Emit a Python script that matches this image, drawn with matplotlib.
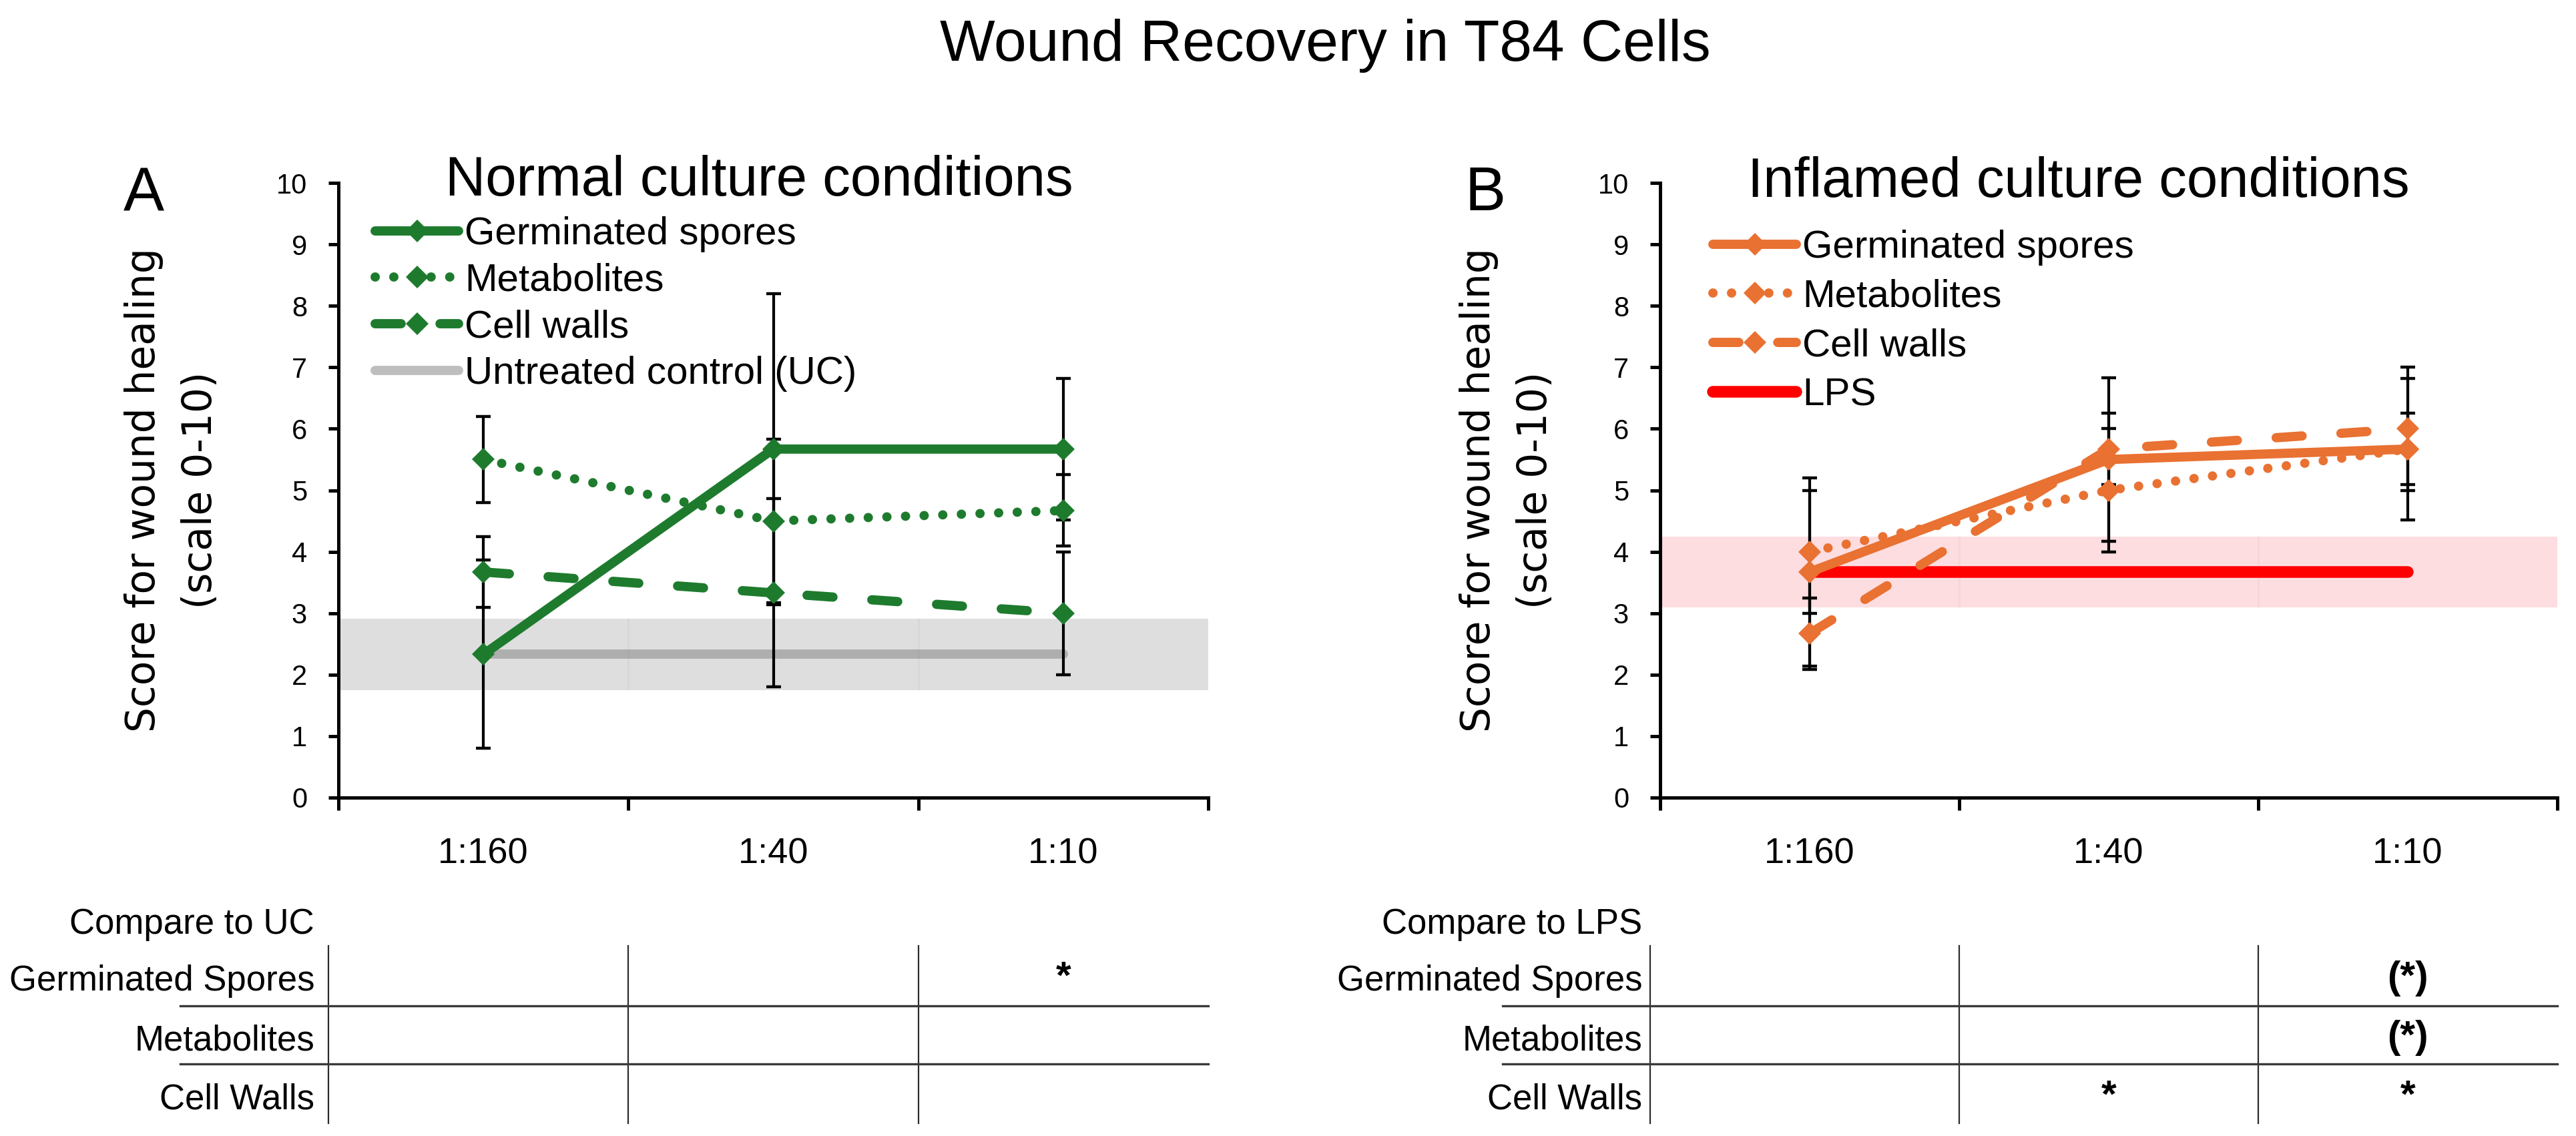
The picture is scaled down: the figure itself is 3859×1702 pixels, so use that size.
import matplotlib
matplotlib.use("Agg")
import matplotlib.pyplot as plt
import matplotlib.transforms as mtransforms

# ---------------- data ----------------
categories = ["1:160", "1:40", "1:10"]
series_names = ["Germinated spores", "Metabolites", "Cell walls"]

# Panel A - normal culture conditions
a_germ = [2.33, 5.67, 5.67]
a_germ_err = [1.53, 2.53, 1.15]
a_met = [5.5, 4.5, 4.67]
a_met_err = [0.7, 1.33, 0.58]
a_cw = [3.67, 3.33, 3.0]
a_cw_err = [0.58, 1.53, 1.0]
a_ctrl_name = "Untreated control (UC)"
a_ctrl = 2.33
a_ctrl_sd = 0.58

# Panel B - inflamed culture conditions
b_germ = [3.67, 5.5, 5.67]
b_germ_err = [1.53, 1.33, 1.15]
b_met = [4.0, 5.0, 5.67]
b_met_err = [1.0, 1.0, 0.58]
b_cw = [2.67, 5.67, 6.0]
b_cw_err = [0.58, 0.58, 1.0]
b_ctrl_name = "LPS"
b_ctrl = 3.67
b_ctrl_sd = 0.58

table_rows = ["Germinated Spores", "Metabolites", "Cell Walls"]
a_sig = [["", "", "*"], ["", "", ""], ["", "", ""]]
b_sig = [["", "", "(*)"], ["", "", "(*)"], ["", "*", "*"]]

# ---------------- layout ----------------
W, H, DPI = 3859, 1702, 200
FONT = "Liberation Sans"
GREEN = "#1E7B2E"
ORANGE = "#E97132"

fig = plt.figure(figsize=(W / DPI, H / DPI), dpi=DPI)
fig.patch.set_facecolor("white")


def fx(px):
    return px / W


def fy(py):
    return 1 - py / H


Y_TOP, Y_BOT = 274, 1195
axA = fig.add_axes([fx(507), fy(Y_BOT), fx(1810 - 507), (Y_BOT - Y_TOP) / H])
axB = fig.add_axes([fx(2487), fy(Y_BOT), fx(3831 - 2487), (Y_BOT - Y_TOP) / H])

overlay = fig.add_axes([0, 0, 1, 1], zorder=-1)
overlay.set_xlim(0, W)
overlay.set_ylim(H, 0)
overlay.axis("off")

LW = 5.0
styles = {
    "solid": dict(linestyle="-"),
    "dotted": dict(linestyle=(0, (0.01, 2.0)), dash_capstyle="round"),
    "dashed": dict(linestyle=(0, (2.8, 4.2)), dash_capstyle="round"),
}


def draw_panel(ax, vals, errs, ctrl, sd, ctrl_name, color, ctrl_kw, band_color):
    x = [1, 2, 3]
    ax.axhspan(ctrl - sd, ctrl + sd, color=band_color, lw=0, zorder=0)
    for b in (1.5, 2.5):
        ax.plot([b, b], [ctrl - sd, ctrl + sd], color="#000000", alpha=0.03,
                lw=1, zorder=0.5)
    handles = []
    for (v, e) in zip(vals, errs):
        ax.errorbar(x, v, yerr=e, fmt="none", ecolor="black", elinewidth=1.5,
                    capsize=4, capthick=1.6, zorder=2)
    ctrl_line, = ax.plot(x, [ctrl] * 3, solid_capstyle="round", zorder=1.5,
                         label=ctrl_name, **ctrl_kw)
    for (v, name, st) in zip(vals, series_names, ["solid", "dotted", "dashed"]):
        ln, = ax.plot(x, v, color=color, lw=LW, marker="D", ms=8.5, mew=0,
                      solid_capstyle="round", zorder=3, label=name, **styles[st])
        handles.append(ln)
    handles.append(ctrl_line)

    ax.set_xlim(0.5, 3.5)
    ax.set_ylim(0, 10)
    for s in ("top", "right"):
        ax.spines[s].set_visible(False)
    for s in ("left", "bottom"):
        ax.spines[s].set_linewidth(1.8)
    ax.set_yticks(range(0, 11))
    ax.tick_params(axis="y", direction="out", length=5.4, width=1.8, pad=11.5,
                   labelsize=15)
    ax.set_xticks([0.5, 1.5, 2.5, 3.5])
    ax.set_xticklabels([])
    ax.tick_params(axis="x", which="major", direction="out", length=7, width=1.8)
    ax.set_xticks([1, 2, 3], minor=True)
    ax.set_xticklabels(categories, minor=True)
    ax.tick_params(axis="x", which="minor", length=0, pad=21.5, labelsize=19.5)
    for lab in ax.get_xticklabels(minor=True) + ax.get_yticklabels():
        lab.set_fontfamily(FONT)
    ax.set_facecolor("none")
    return handles


hA = draw_panel(axA, [a_germ, a_met, a_cw], [a_germ_err, a_met_err, a_cw_err],
                a_ctrl, a_ctrl_sd, a_ctrl_name, GREEN,
                dict(color="#7F7F7F", alpha=0.5, lw=5.0), "#DEDEDE")
hB = draw_panel(axB, [b_germ, b_met, b_cw], [b_germ_err, b_met_err, b_cw_err],
                b_ctrl, b_ctrl_sd, b_ctrl_name, ORANGE,
                dict(color="#FF0000", lw=6.3), "#FDDDE0")

legA = axA.legend(handles=hA, loc="upper left",
                  bbox_to_anchor=(fx(562), fy(324)), bbox_transform=fig.transFigure,
                  frameon=False, borderpad=0, borderaxespad=0, handlelength=2.15,
                  handletextpad=0.15, labelspacing=0.27, numpoints=1,
                  prop=dict(family=FONT, size=21))
legB = axB.legend(handles=hB, loc="upper left",
                  bbox_to_anchor=(fx(2566), fy(344)), bbox_transform=fig.transFigure,
                  frameon=False, borderpad=0, borderaxespad=0, handlelength=2.15,
                  handletextpad=0.15, labelspacing=0.34, numpoints=1,
                  prop=dict(family=FONT, size=21))

# ---------------- texts ----------------
fig.text(fx(1985), fy(91), "Wound Recovery in T84 Cells", ha="center", va="baseline",
         family=FONT, size=31.5)
fig.text(fx(185), fy(317), "A", ha="left", va="baseline", family=FONT, size=33)
fig.text(fx(2195), fy(315), "B", ha="left", va="baseline", family=FONT, size=33)
fig.text(fx(1137), fy(293), "Normal culture conditions", ha="center", va="baseline",
         family=FONT, size=30)
fig.text(fx(3114), fy(295), "Inflamed culture conditions", ha="center", va="baseline",
         family=FONT, size=30)
ylab = "Score for wound healing\n(scale 0-10)"
fig.text(fx(258), fy(734), ylab, ha="center", va="center", rotation=90,
         family="DejaVu Sans", size=21.5, linespacing=1.55, multialignment="center")
fig.text(fx(2258), fy(734), ylab, ha="center", va="center", rotation=90,
         family="DejaVu Sans", size=21.5, linespacing=1.55, multialignment="center")


# ---------------- significance tables ----------------
def draw_table(ax, header, sig, label_offset, line_start_offset):
    x0, _ = fig.transFigure.inverted().transform(ax.transAxes.transform((0, 0)))
    x1, _ = fig.transFigure.inverted().transform(ax.transAxes.transform((1, 0)))
    left_px, right_px = x0 * W, x1 * W
    cat_w = (right_px - left_px) / 3
    blend = mtransforms.blended_transform_factory(ax.transData, overlay.transData)
    row_y = [1470, 1559, 1648]
    overlay.text(left_px - label_offset, 1385, header, ha="right", va="center",
                 family=FONT, size=19)
    for name, y in zip(table_rows, row_y):
        overlay.text(left_px - label_offset, y, name, ha="right", va="center",
                     family=FONT, size=19)
    for xv in (left_px - 15, left_px + cat_w, left_px + 2 * cat_w):
        overlay.plot([xv, xv], [1417, 1683], color="#2B2B2B", lw=0.8)
    for yv in (1507, 1594):
        overlay.plot([left_px - line_start_offset, right_px], [yv, yv],
                     color="#3A3A3A", lw=1.2)
    for r, row in enumerate(sig):
        for c, mark in enumerate(row):
            if mark:
                overlay.text(c + 1, row_y[r] - 4, mark, transform=blend, ha="center",
                             va="center", family=FONT, size=21, weight="bold")


draw_table(axA, "Compare to UC", a_sig, 36, 237)
draw_table(axB, "Compare to LPS", b_sig, 27, 236)

fig.savefig("out.png", dpi=DPI, facecolor="white")
